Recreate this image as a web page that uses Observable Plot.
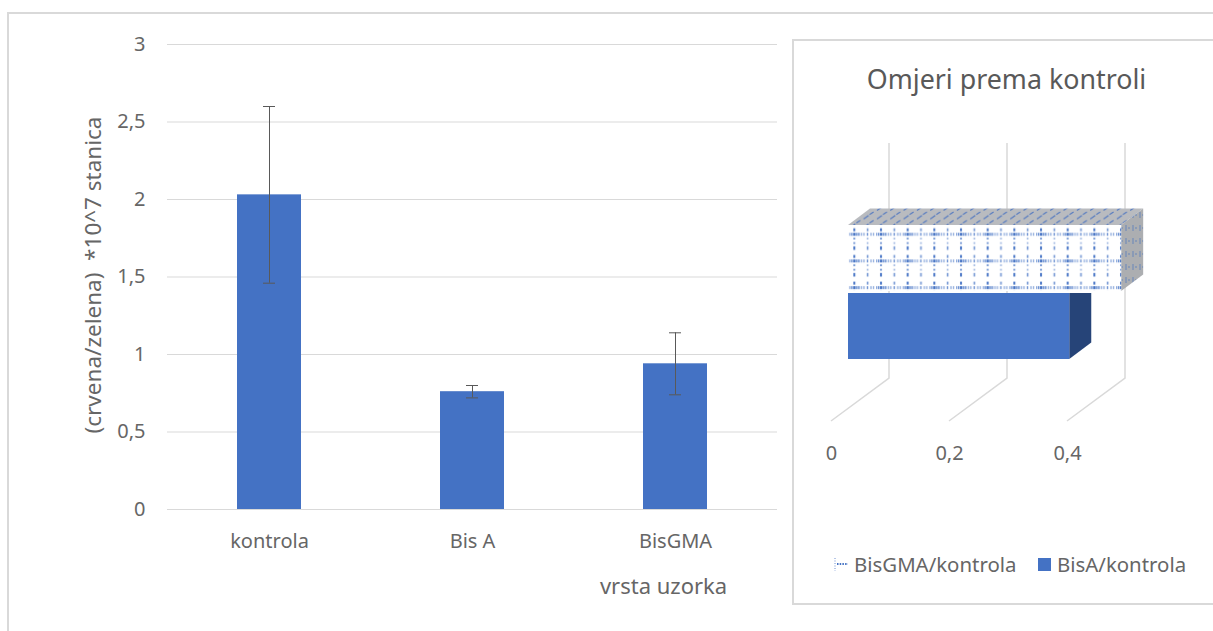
<!DOCTYPE html>
<html><head><meta charset="utf-8">
<script src="https://cdn.jsdelivr.net/npm/d3@7"></script>
<script src="https://cdn.jsdelivr.net/npm/@observablehq/plot@0.6"></script>
<style>
html,body{margin:0;padding:0;background:#fff;width:1213px;height:631px;overflow:hidden;font-family:"Noto Sans",sans-serif;color:#666}
.abs{position:absolute}
#outer{left:7px;top:12px;right:-5px;bottom:-5px;border:2px solid #d9d9d9}
#panel{left:792px;top:39px;width:430px;height:562px;border:2px solid #d9d9d9;background:#fff}
#title{left:795px;width:423px;top:61px;text-align:center;font-size:26.8px;line-height:36px;color:#595959}
.leg{font-size:20.4px;line-height:26px;top:551px;color:#666;white-space:nowrap}
svg text{fill:#666}
</style></head><body>
<svg class="abs" width="0" height="0"><defs>
<pattern id="dots" patternUnits="userSpaceOnUse" width="26.67" height="26.67">
<rect width="26.67" height="26.67" fill="#fff"/>
<g fill="#4472c4">
<rect x="5" y="0.6" width="2" height="3" opacity=".95"/><rect x="5" y="10" width="2" height="1.8" opacity=".75"/><rect x="5" y="14.5" width="2" height="1.8" opacity=".75"/><rect x="5" y="18.6" width="2" height="3.6" opacity=".95"/>
<rect x="18.5" y="0.6" width="1.6" height="3" opacity=".75"/><rect x="18.5" y="10" width="1.6" height="1.8" opacity=".55"/><rect x="18.5" y="14.5" width="1.6" height="1.8" opacity=".55"/><rect x="18.5" y="18.6" width="1.6" height="3.6" opacity=".75"/>
<rect x="1" y="5.1" width="1.4" height="3" opacity=".6"/><rect x="3" y="5.1" width="1.4" height="3" opacity=".8"/><rect x="5" y="5.1" width="2.4" height="3" opacity="1"/><rect x="8" y="5.1" width="1.4" height="3" opacity=".8"/><rect x="10" y="5.1" width="1.4" height="3" opacity=".8"/><rect x="12.6" y="5.1" width="1.4" height="3" opacity=".55"/><rect x="15" y="5.1" width="1.4" height="3" opacity=".55"/><rect x="18.5" y="5.1" width="1.4" height="3" opacity=".8"/><rect x="22" y="5.1" width="1.4" height="3" opacity=".55"/><rect x="24.5" y="5.1" width="1.4" height="3" opacity=".55"/>
</g></pattern>
<pattern id="top" patternUnits="userSpaceOnUse" width="13.33" height="8.5">
<rect width="13.33" height="8.5" fill="#b9bbbf"/>
<path d="M2 8 L7 4.5 M8 3.5 L12 1" stroke="#3f6cc0" stroke-width="1.2" opacity=".85"/>
</pattern>
<pattern id="side" patternUnits="userSpaceOnUse" width="7" height="13">
<rect width="7" height="13" fill="#acaeb1"/>
<path d="M2 2V8M5 4V6" stroke="#4a73bd" stroke-width="1" opacity=".7"/>
</pattern>
</defs></svg>
<div id="outer" class="abs"></div>
<div id="left" class="abs" style="left:0;top:0"></div>
<div id="panel" class="abs"></div>
<div id="title" class="abs">Omjeri prema kontroli</div>
<div id="right" class="abs" style="left:795px;top:41px"></div>
<svg class="abs" style="left:834px;top:557px" width="15" height="15"><path d="M1 1V14" stroke="#6f8fd0" stroke-width="1" stroke-dasharray="1 1.5"/><path d="M3 7H14" stroke="#4472c4" stroke-width="2" stroke-dasharray="1.5 1.2"/></svg>
<div class="abs leg" style="left:854px">BisGMA/kontrola</div>
<div class="abs" style="left:1038px;top:558px;width:13px;height:13px;background:#4472c4"></div>
<div class="abs leg" style="left:1057px">BisA/kontrola</div>
<script>
const categories = ["kontrola", "Bis A", "BisGMA"];
const means = [2.03, 0.76, 0.94];
const errLow = [1.46, 0.72, 0.74];
const errHigh = [2.6, 0.8, 1.14];
const yTicks = [0, 0.5, 1, 1.5, 2, 2.5, 3];
const ratioNames = ["BisGMA/kontrola", "BisA/kontrola"];
const ratioValues = [0.463, 0.375];
const ratioTicks = [0, 0.2, 0.4];
const comma = d => String(d).replace(".", ",");

const rows = categories.map((c, i) => ({c, m: means[i], lo: errLow[i], hi: errHigh[i]}));

const left = Plot.plot({
  width: 790, height: 631, marginTop: 44, marginBottom: 122, marginLeft: 167, marginRight: 13,
  style: {fontFamily: '"Noto Sans",sans-serif', fontSize: "20px", background: "transparent", overflow: "visible"},
  x: {domain: categories, paddingInner: 0.685, paddingOuter: 0.3425, align: 0.5, label: null},
  y: {domain: [0, 3], label: null},
  marks: [
    Plot.gridY(yTicks, {stroke: "#d9d9d9", strokeOpacity: 1, strokeWidth: 1}),
    Plot.barY(rows, {x: "c", y: "m", fill: "#4472c4"}),
    Plot.ruleX(rows, {x: "c", y1: "lo", y2: "hi", stroke: "#595959", strokeWidth: 1}),
    Plot.tickY(rows, {x: "c", y: "lo", stroke: "#595959", strokeWidth: 1, insetLeft: 26, insetRight: 26}),
    Plot.tickY(rows, {x: "c", y: "hi", stroke: "#595959", strokeWidth: 1, insetLeft: 26, insetRight: 26}),
    Plot.axisY({ticks: yTicks, tickSize: 0, tickPadding: 22, tickFormat: comma, label: null, fill: "#666"}),
    Plot.axisX({tickSize: 0, tickPadding: 24, label: null, fill: "#666"}),
    Plot.text(["vrsta uzorka"], {frameAnchor: "bottom", dx: 191, dy: 84, fill: "#666", fontSize: 22}),
    Plot.text(["(crvena/zelena)  *10^7 stanica"], {frameAnchor: "left", textAnchor: "middle", dx: -74, dy: -2, rotate: -90, fill: "#666", fontSize: 22.5})
  ]
});
document.getElementById("left").append(left);

const dx = 22, dy = -16.5;            // oblique depth of each bar
const gridDx = 41, floorDx = -58, floorDy = 43, wallTop = 102, wallBottom = 337;

function poly(g, pts, fill) {
  g.append("polygon").attr("points", pts.map(p => p.join(",")).join(" ")).attr("fill", fill);
}
const walls = (index, {x}) => {
  const g = d3.create("svg:g").attr("fill", "none").attr("stroke", "#d9d9d9").attr("stroke-width", 1.5);
  for (const t of ratioTicks) {
    const px = x(t);
    g.append("path").attr("d", `M${px + gridDx},${wallTop}V${wallBottom}L${px + gridDx + floorDx},${wallBottom + floorDy}`);
  }
  return g.node();
};
const faces = (name, sideFill, topFill) => (index, {x, y}) => {
  const g = d3.create("svg:g");
  const v = ratioValues[ratioNames.indexOf(name)];
  const x0 = x(0), x1 = x(v), y0 = y(name) + 1, y1 = y(name) + y.bandwidth() - 1;
  if (topFill) {
    poly(g, [[x0, y0], [x0 + dx, y0 + dy], [x1 + dx, y0 + dy], [x1, y0]], topFill);
    poly(g, [[x1, y0], [x1 + dx, y0 + dy], [x1 + dx, y1 + dy], [x1, y1]], sideFill);
  } else {
    // the upper bar hides this bar's top, so the side starts flat
    poly(g, [[x1, y0], [x1 + dx, y0], [x1 + dx, y1 + dy], [x1, y1]], sideFill);
  }
  return g.node();
};
const ratioRows = ratioNames.map((n, i) => ({n, v: ratioValues[i]}));

const right = Plot.plot({
  width: 418, height: 560, marginTop: 182, marginBottom: 241, marginLeft: 53, marginRight: 70,
  style: {fontFamily: '"Noto Sans",sans-serif', fontSize: "20px", background: "transparent", overflow: "visible"},
  x: {domain: [0, 0.5], label: null, axis: null},
  y: {domain: ratioNames, padding: 0, axis: null, label: null},
  marks: [
    walls,
    faces("BisA/kontrola", "#264478", null),
    Plot.barX(ratioRows.filter(d => d.n === "BisA/kontrola"), {x: "v", y: "n", fill: "#4472c4", insetTop: 1, insetBottom: 1}),
    faces("BisGMA/kontrola", "url(#side)", "url(#top)"),
    Plot.barX(ratioRows.filter(d => d.n === "BisGMA/kontrola"), {x: "v", y: "n", fill: "url(#dots)", insetTop: 1, insetBottom: 1}),
    Plot.text(ratioTicks, {x: d => d, text: comma, frameAnchor: "bottom", dx: -17, dy: 99, fill: "#666", fontSize: 20})
  ]
});
document.getElementById("right").append(right);
</script>
</body></html>
